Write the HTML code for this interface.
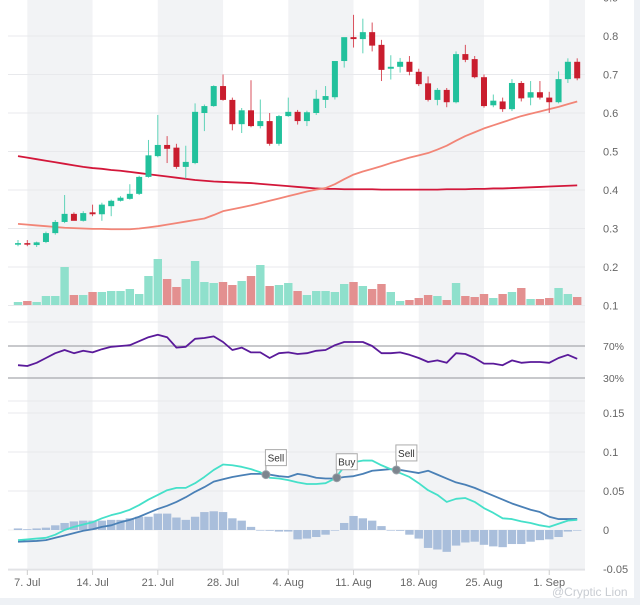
<!DOCTYPE html>
<html><head><meta charset="utf-8"><style>
html,body{margin:0;padding:0;background:#fff;}
#wrap{position:relative;width:640px;height:605px;overflow:hidden;font-family:"Liberation Sans",sans-serif;}
svg text{font-family:"Liberation Sans",sans-serif;}
</style></head><body>
<div id="wrap">
<svg id="chart" width="640" height="605" viewBox="0 0 640 605"></svg>
</div>
<script>
const opens=[.258,.262,.257,.265,.288,.317,.338,.320,.342,.337,.358,.372,.377,.390,.434,.488,.517,.510,.460,.470,.600,.618,.670,.634,.571,.607,.566,.579,.520,.592,.603,.579,.600,.634,.641,.735,.797,.792,.810,.777,.715,.720,.733,.707,.677,.634,.660,.628,.753,.740,.693,.620,.630,.610,.678,.640,.654,.640,.628,.688,.733];
const closes=[.262,.258,.264,.288,.317,.338,.320,.340,.337,.362,.372,.380,.390,.434,.490,.517,.507,.460,.473,.603,.618,.670,.634,.571,.607,.566,.579,.520,.592,.603,.579,.602,.637,.644,.735,.797,.792,.810,.775,.712,.720,.733,.707,.675,.634,.660,.628,.753,.738,.693,.618,.632,.610,.678,.638,.654,.640,.628,.688,.733,.690];
const highs=[.270,.270,.266,.292,.322,.387,.342,.345,.362,.367,.375,.384,.415,.437,.530,.595,.540,.520,.515,.625,.622,.672,.700,.640,.613,.685,.635,.600,.595,.640,.608,.606,.660,.670,.670,.770,.855,.845,.835,.790,.750,.743,.748,.715,.695,.665,.665,.760,.777,.748,.700,.648,.640,.688,.683,.683,.683,.655,.708,.742,.742];
const lows=[.254,.254,.252,.262,.284,.314,.330,.318,.332,.320,.332,.370,.375,.387,.432,.485,.470,.455,.430,.467,.553,.616,.632,.555,.548,.563,.560,.515,.515,.590,.570,.566,.595,.613,.635,.718,.770,.755,.760,.683,.687,.705,.698,.670,.630,.620,.615,.625,.732,.690,.614,.615,.603,.605,.630,.620,.635,.600,.625,.678,.685];
const volumes=[3,4,3,9,9,38,10,10,13,13,14,14,16,11,29,46,26,18,26,44,23,22,23,20,24,29,40,19,20,22,14,10,14,14,13,21,23,19,16,21,13,4,5,7,10,9,5,22,9,8,11,7,11,13,17,6,6,7,17,11,8];
const ma1=[.488,.484,.480,.476,.472,.468,.464,.460,.457,.455,.452,.450,.447,.444,.441,.438,.435,.432,.429,.426,.424,.422,.421,.420,.419,.418,.416,.414,.412,.410,.408,.406,.404,.403,.403,.402,.402,.402,.402,.401,.401,.401,.401,.401,.401,.401,.402,.402,.402,.403,.403,.404,.404,.405,.406,.407,.408,.409,.410,.411,.412];
const ma2=[.312,.310,.308,.306,.304,.302,.301,.300,.299,.299,.298,.298,.298,.300,.303,.306,.310,.314,.318,.322,.326,.335,.345,.350,.355,.360,.366,.372,.378,.384,.390,.396,.401,.405,.415,.428,.440,.448,.455,.462,.470,.477,.484,.490,.496,.505,.515,.528,.540,.550,.560,.568,.576,.584,.592,.598,.604,.610,.616,.623,.630];
const rsi=[46,45,49,55,61,65,61,64,62,66,69,70,71,76,81,84,81,68,69,79,80,82,75,65,68,62,62,55,61,62,60,61,64,65,71,75,75,75,70,61,61,62,59,55,50,52,49,61,60,55,48,48,46,52,49,50,50,49,55,59,54];
const macdLine=[-.013,-.012,-.011,-.010,-.006,0,.004,.007,.010,.015,.019,.022,.026,.032,.039,.045,.051,.054,.054,.060,.068,.077,.084,.083,.081,.078,.074,.067,.066,.064,.061,.059,.059,.060,.066,.081,.087,.089,.089,.083,.078,.073,.068,.060,.051,.045,.036,.040,.041,.036,.028,.022,.015,.014,.011,.009,.006,.004,.008,.012,.013];
const signalLine=[-.015,-.0145,-.014,-.013,-.010,-.007,-.004,-.001,.001,.004,.006,.010,.013,.017,.022,.027,.031,.036,.042,.049,.055,.062,.065,.068,.070,.072,.072,.071,.069,.068,.072,.070,.067,.066,.066,.068,.069,.072,.076,.077,.078,.077,.075,.073,.076,.071,.066,.061,.058,.054,.049,.044,.039,.034,.030,.026,.023,.017,.014,.014,.014];
const hist=[.002,.001,.002,.003,.006,.009,.011,.012,.012,.012,.013,.013,.015,.017,.017,.021,.021,.016,.013,.017,.023,.024,.023,.015,.012,.004,0,-.001,-.002,-.002,-.012,-.011,-.009,-.006,0,.009,.018,.015,.012,.005,0,-.001,-.006,-.011,-.023,-.025,-.028,-.02,-.016,-.015,-.019,-.021,-.022,-.018,-.018,-.015,-.013,-.012,-.009,-.002,0];
const signalLabels=["Sell","Buy","Sell"];
const signalIdx=[26.6,34.2,40.6];
const signalVals=[.071,.067,.077];
const priceTicks=[0.1,0.2,0.3,0.4,0.5,0.6,0.7,0.8,0.9];
const rsiTicks=[30,70];
const macdTicks=[-0.05,0,0.05,0.1,0.15];
const dateLabels=["7. Jul","14. Jul","21. Jul","28. Jul","4. Aug","11. Aug","18. Aug","25. Aug","1. Sep"];
const dateIdx=[1,8,15,22,29,36,43,50,57];

const NS="http://www.w3.org/2000/svg";
const svg=document.getElementById('chart');
function el(tag,attrs,parent,txt){const e=document.createElementNS(NS,tag);for(const k in attrs)e.setAttribute(k,attrs[k]);if(txt!==undefined)e.textContent=txt;(parent||svg).appendChild(e);return e;}
const X=i=>18+9.32*i;
const PY=v=>36+(0.8-v)*385;
const VY=v=>305-v;
const RY=v=>378-(v-30)*0.8;
const MY=v=>530-v*780;
const L=8,R=585;

let g=el('g',{});


for(let k=0;k<dateIdx.length;k+=2){
  const x0=X(dateIdx[k]), x1=Math.min(X(dateIdx[k]+7),R);
  const r=el('rect',{x:x0,y:0,width:x1-x0,height:570,fill:'#f2f3f5'},g);
  
  
}
el('rect',{x:634,y:0,width:6,height:605,fill:'#eef1f5'});
el('rect',{x:0,y:598,width:640,height:7,fill:'#eef1f5'});

g=el('g',{});


priceTicks.forEach(v=>{const y=PY(v);
  el('line',{x1:L,x2:R,y1:y,y2:y,stroke:'#e8e9ec','stroke-width':1},g);
  const t=el('text',{x:603,y:y+4,'font-size':11,fill:'#666'},g,String(v));
  
  
});
g=el('g',{});


[322,401].forEach(y=>el('line',{x1:L,x2:R,y1:y,y2:y,stroke:'#e8e9ec'},g));
rsiTicks.forEach(v=>{const y=RY(v);
  el('line',{x1:L,x2:R,y1:y,y2:y,stroke:'#a7a9ae','stroke-width':1.3},g);
  const t=el('text',{x:603,y:y+4,'font-size':10.5,fill:'#666'},g,v+'%');
  
  
});
g=el('g',{});


macdTicks.forEach(v=>{const y=MY(v);
  el('line',{x1:L,x2:R,y1:y,y2:y,stroke:v===0?'#f0f0f2':'#e8e9ec'},g);
  const t=el('text',{x:603,y:y+4,'font-size':11,fill:'#666'},g,String(v));
  
  
});
el('line',{x1:L,x2:R,y1:570,y2:570,stroke:'#dcdde0'});

g=el('g',{});


volumes.forEach((v,i)=>{const up=closes[i]>=opens[i];
  const b=el('rect',{x:X(i)-4.2,y:VY(v),width:8.4,height:v,fill:up?'#8fe0cc':'#e39090'},g);
  
  
});

function line(arr,f,color,w,name){
  const p=el('polyline',{points:arr.map((v,i)=>X(i)+','+f(v)).join(' '),fill:'none',stroke:color,'stroke-width':w,'stroke-linejoin':'round'});
  
  
  return p;
}
line(ma1,PY,'#d3173a',1.8,'moving-average-long');
line(ma2,PY,'#f28577',1.8,'moving-average-short');

g=el('g',{});


opens.forEach((o,i)=>{const c=closes[i],up=c>=o,col=up?'#22c19c':'#c91d2e';
  const cg=el('g',{},g);
  
  
  el('line',{x1:X(i),x2:X(i),y1:PY(highs[i]),y2:PY(lows[i]),stroke:up?'#5fd3b8':'#d9505c','stroke-width':1},cg);
  const y1=PY(Math.max(o,c)),y2=PY(Math.min(o,c));
  el('rect',{x:X(i)-3,y:y1,width:6,height:Math.max(y2-y1,1.5),fill:col},cg);
});

line(rsi,RY,'#5a1a9a',1.8,'rsi-line');

g=el('g',{});


hist.forEach((v,i)=>{const y0=MY(0),y=MY(v);
  const b=el('rect',{x:X(i)-4.2,y:Math.min(y,y0),width:8.4,height:Math.max(Math.abs(y-y0),0.6),fill:'#a9bedb'},g);
  
  
});
line(signalLine,MY,'#4a80b6',1.8,'signal-line');
line(macdLine,MY,'#45e0c9',1.8,'macd-line');

signalLabels.forEach((lab,k)=>{const x=X(signalIdx[k]),y=MY(signalVals[k]);
  const sg=el('g',{});
  
  
  const by=y-(k===1?24:25);
  el('line',{x1:x,x2:x,y1:by+16,y2:y,stroke:'#999','stroke-width':1},sg);
  el('rect',{x:x-0.5,y:by,width:21,height:16,fill:'#fff',stroke:'#aaa','stroke-width':1},sg);
  el('text',{x:x+10,y:by+12,'font-size':10,fill:'#333','text-anchor':'middle'},sg,lab);
  el('circle',{cx:x,cy:y,r:4,fill:'#7d858e',stroke:'#9aa1a8','stroke-width':1},sg);
});

g=el('g',{});


dateLabels.forEach((d,k)=>{const x=X(dateIdx[k]);
  el('line',{x1:x,x2:x,y1:570,y2:575,stroke:'#ccc'},g);
  const t=el('text',{x:x,y:586,'font-size':11,fill:'#666','text-anchor':'middle'},g,d);
  
  
});
const wm=el('text',{x:552,y:596,'font-size':12,fill:'#c8ccd2'},svg,'@Cryptic Lion');


</script>
</body></html>
